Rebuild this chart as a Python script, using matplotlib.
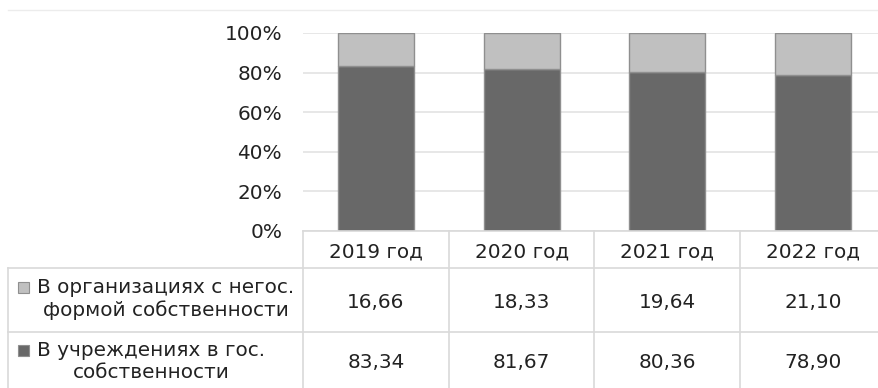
import matplotlib
matplotlib.use("Agg")
import matplotlib.pyplot as plt
from matplotlib.patches import Rectangle

# Data: share of staff by ownership type, %
years = ["2019 год", "2020 год", "2021 год", "2022 год"]
state_share = [83.34, 81.67, 80.36, 78.90]
private_share = [16.66, 18.33, 19.64, 21.10]
series_names = ["В организациях с негос.\nформой собственности",
                "В учреждениях в гос.\nсобственности"]
y_ticks = [0, 20, 40, 60, 80, 100]

DARK = "#686868"
LIGHT = "#c0c0c0"
EDGE = "#8f8f8f"
GRID = "#e3e3e3"
TEXT = "#222222"
FS = 14.4

W, H = 879, 388
fig = plt.figure(figsize=(W / 100, H / 100), dpi=100)
plt.rcParams["font.family"] = ["DejaVu Sans"]

# plot area in pixel units
px_left, px_right, px_top, px_bottom = 303, 886, 33, 231
ax = fig.add_axes([px_left / W, 1 - px_bottom / H,
                   (px_right - px_left) / W, (px_bottom - px_top) / H])
ax.set_xlim(-0.5, len(years) - 0.5)
ax.set_ylim(0, 100)
ax.set_yticks(y_ticks)
ax.set_yticklabels([f"{t}%" for t in y_ticks], fontsize=FS, color=TEXT)
ax.tick_params(axis="y", length=0, pad=15)
ax.set_xticks([])
for s in ax.spines.values():
    s.set_visible(False)
ax.yaxis.grid(True, color=GRID, lw=1.2)
ax.set_axisbelow(True)

xs = list(range(len(years)))
ax.bar(xs, state_share, width=0.52, color=DARK, edgecolor=EDGE, lw=1, zorder=3)
ax.bar(xs, private_share, bottom=state_share, width=0.52, color=LIGHT,
       edgecolor=EDGE, lw=1, zorder=3)

# data table under the chart
tab = fig.add_axes([0, 0, 1, 1], zorder=5)
tab.set_xlim(0, W)
tab.set_ylim(H, 0)
tab.axis("off")
tab.patch.set_alpha(0)

col_w = (px_right - px_left) / len(years)
bounds = [px_left + i * col_w for i in range(len(years) + 1)]
centers = [px_left + (i + 0.5) * col_w for i in range(len(years))]
row_lines = [268, 332]
LINE = "#d9d9d9"

# frame lines
tab.plot([8, W], [10, 10], color="#ececec", lw=1)
tab.plot([px_left, W], [px_bottom, px_bottom], color=LINE, lw=1.2)
for yl in row_lines:
    tab.plot([8, W], [yl, yl], color=LINE, lw=1.2)
tab.plot([8, 8], [268, H], color=LINE, lw=1.2)
for b in bounds[:-1]:
    tab.plot([b, b], [px_bottom, H], color=LINE, lw=1.2)

# header
for cx, lab in zip(centers, years):
    tab.text(cx, 252, lab, ha="center", va="center", fontsize=FS, color=TEXT)

rows = [(series_names[0], LIGHT, private_share, 287, 302),
        (series_names[1], DARK, state_share, 350, 363)]
for name, colr, vals, y1, yv in rows:
    tab.add_patch(Rectangle((18, y1 - 5), 11, 11, facecolor=colr,
                            edgecolor=EDGE, lw=0.8))
    tab.text(37, y1 - 9, name, ha="left", va="top", fontsize=FS,
             color=TEXT, multialignment="center", linespacing=1.2)
    for cx, v in zip(centers, vals):
        tab.text(cx, yv, f"{v:.2f}".replace(".", ","), ha="center",
                 va="center", fontsize=FS, color=TEXT)

fig.savefig("out.png", dpi=100)
